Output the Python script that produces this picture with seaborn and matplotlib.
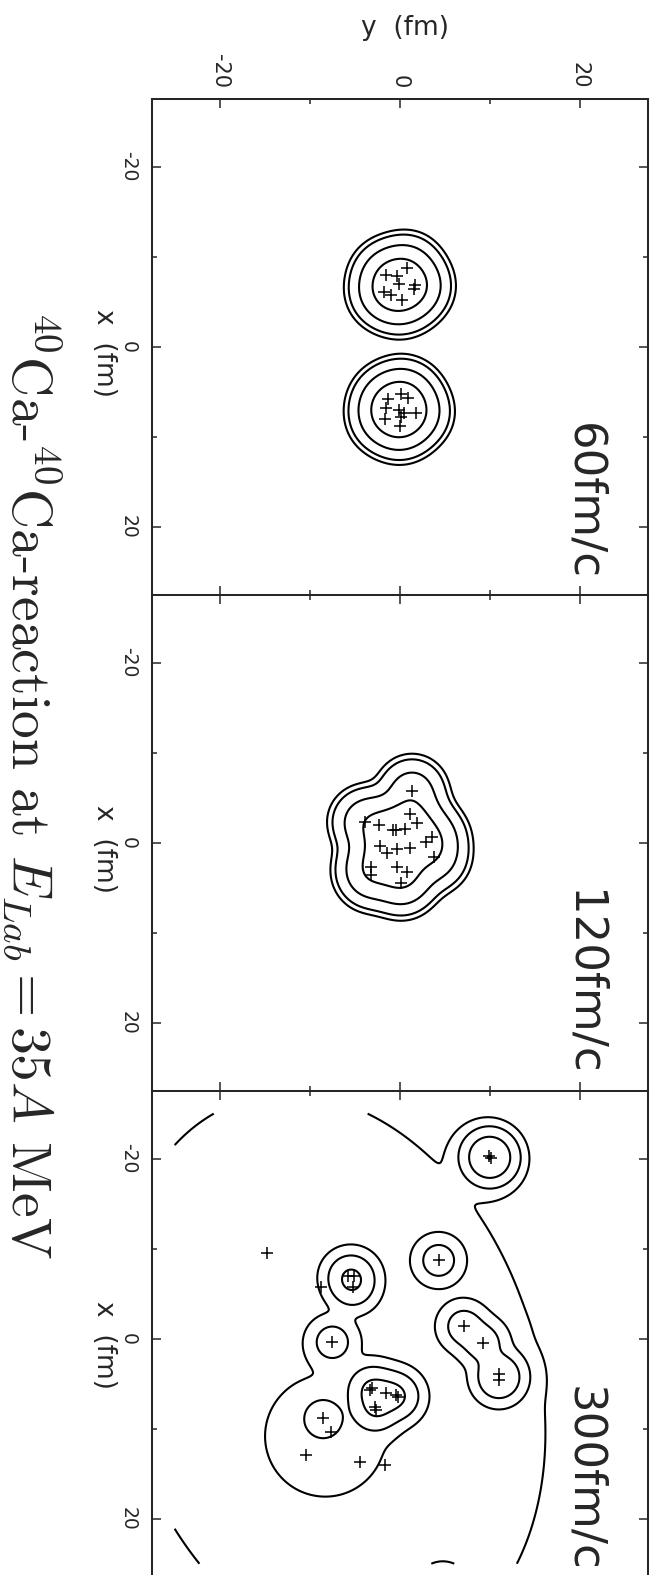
import numpy as np
import matplotlib
matplotlib.use('Agg')
import matplotlib.pyplot as plt
import seaborn as sns

sns.set_style('ticks')
plt.rcParams['font.family'] = ['DejaVu Sans']
plt.rcParams['mathtext.fontset'] = 'cm'

# ---- nucleon positions, (y, x) in fm, read off the snapshots ----
# 60 fm/c : the two 40Ca nuclei
t60_y = [-1.48, -0.26, 0.85, -0.10, 1.74, 1.56, -1.78, -0.93, 0.30,
         -1.30, 0.19, 0.93, -1.48, -0.10, 0.48, 1.85, -1.67, 0.19, 0.07]
t60_x = [-7.97, -7.80, -8.70, -7.00, -6.90, -6.40, -6.10, -5.70, -5.20,
         5.85, 5.26, 5.67, 6.78, 7.00, 7.40, 7.33, 8.00, 7.78, 8.78]

# 120 fm/c : compound system
t120_y = [1.37, 1.19, 1.93, -3.89, -2.33, -0.74, -0.37, 0.56, -2.15, -1.41,
          -0.30, 1.19, 2.96, 3.63, 3.81, -3.15, -3.15, -0.30, 0.81, 0.19]
t120_x = [-5.74, -3.19, -2.15, -2.33, -1.97, -1.41, -1.41, -1.48, 0.37, 1.18,
          0.74, 0.63, -0.04, -0.60, 1.63, 2.67, 3.59, 2.74, 3.22, 4.44]

# 300 fm/c : nucleons bound in fragments (last one lies below the frame)
t300_y = [9.9, 10.1, 4.33, -5.74, -5.11, -5.19, -7.48, 7.11, 9.26, 11.03, 11.03,
          -8.52, -3.33, -3.04, -1.48, -0.37, -0.19, -2.78, -2.59, 4.8]
t300_x = [-20.25, -20.05, -8.70, -6.92, -6.92, -5.73, 0.38, -1.37, 0.49, 3.97, 4.56,
          8.82, 5.67, 5.44, 6.04, 6.30, 6.49, 7.60, 7.89, 27.9]
# 300 fm/c : free nucleons
free_y = [-14.74, -8.70, -7.59, -10.37, -4.44, -1.67]
free_x = [-9.51, -5.73, 10.38, 12.97, 13.71, 14.08]

# 300 fm/c : dilute gas (rotated gaussian) and a hot spot
gas_center = (-7.72, 4.28)
gas_sigma = (32.3, 45.4)
gas_angle = -17.7
gas_amp = 0.045
spot_center = (-8.3, 10.9)
spot_sigma = 4.0
spot_amp = 0.187

levels = [0.035, 0.09, 0.46, 2.0]
wp_width = [1.6, 1.6, 1.3]
times = ['60fm/c', '120fm/c', '300fm/c']
major_ticks = [-20, 0, 20]
minor_ticks = [-10, 10]
tick_labels = ['-20', '0', '20']
lim = 27.55

gy, gx = np.meshgrid(np.linspace(-25, 25, 501), np.linspace(-25, 25, 501))


def density(ny, nx, w):
    rho = np.zeros_like(gy)
    for yy, xx in zip(ny, nx):
        rho += np.exp(-((gy - yy)**2 + (gx - xx)**2) / (2 * w**2))
    return rho


rho60 = density(t60_y, t60_x, wp_width[0])
rho120 = density(t120_y, t120_x, wp_width[1])
rho300 = density(t300_y, t300_x, wp_width[2])
a = np.deg2rad(gas_angle)
dy, dx = gy - gas_center[0], gx - gas_center[1]
u = dy * np.cos(a) + dx * np.sin(a)
v = -dy * np.sin(a) + dx * np.cos(a)
rho300 += gas_amp * np.exp(-0.5 * ((u / gas_sigma[0])**2 + (v / gas_sigma[1])**2))
rho300 += spot_amp * np.exp(-((gy - spot_center[0])**2 + (gx - spot_center[1])**2)
                            / (2 * spot_sigma**2))

panels = [(rho60, t60_y, t60_x), (rho120, t120_y, t120_x), (rho300, t300_y, t300_x)]

fig = plt.figure(figsize=(6.57, 15.75), dpi=100)
bottoms = [0.62241, 0.30749, -0.00743]

for i, (rho, ny, nx) in enumerate(panels):
    ax = fig.add_axes([0.2309, bottoms[i], 0.7549, 0.31492])
    ax.contour(gy, gx, rho, levels=levels, colors='k', linewidths=1.5)
    sns.scatterplot(x=ny, y=nx, marker='+', s=80, color='k', linewidth=1.1, ax=ax)
    if i == 2:
        sns.scatterplot(x=free_y, y=free_x, marker='+', s=80, color='k',
                        linewidth=1.1, ax=ax)
    ax.set_xlim(-lim, lim)
    ax.set_ylim(lim, -lim)
    for sp in ax.spines.values():
        sp.set_linewidth(1.45)
    ax.set_xticks(major_ticks)
    ax.set_xticks(minor_ticks, minor=True)
    ax.set_yticks(major_ticks)
    ax.set_yticks(minor_ticks, minor=True)
    ax.tick_params(which='both', direction='in', top=True, bottom=True,
                   left=True, right=True, width=1.1)
    ax.tick_params(which='major', length=6.5)
    ax.tick_params(which='minor', length=3.6)
    ax.set_yticklabels(tick_labels, rotation=-90, va='center', ha='right',
                       fontsize=13.5)
    ax.tick_params(axis='y', pad=10)
    if i == 0:
        ax.tick_params(axis='x', labeltop=True, labelbottom=False, pad=7.7)
        ax.set_xticklabels(tick_labels, rotation=-90, ha='center', va='bottom',
                           fontsize=15)
        ax.set_xlabel('y  (fm)', fontsize=19)
        ax.xaxis.set_label_position('top')
        ax.xaxis.set_label_coords(0.5107, 1.128)
    else:
        ax.tick_params(axis='x', labeltop=False, labelbottom=False)
        ax.set_xlabel('')
    ax.set_ylabel('x  (fm)', fontsize=19, rotation=-90, va='center', ha='center')
    ax.yaxis.set_label_coords(-0.096, 0.487)
    ax.text(0.8706, 0.03, times[i], transform=ax.transAxes, rotation=-90,
            ha='center', va='bottom', fontsize=32.4)

fig.text(0.046, 0.5013, r'$^{40}$Ca-$^{40}$Ca-reaction at $E_{Lab}=35A$ MeV',
         rotation=-90, ha='center', va='center', fontsize=40, fontfamily='cmr10')

fig.savefig('out.png', dpi=100, facecolor='white')
